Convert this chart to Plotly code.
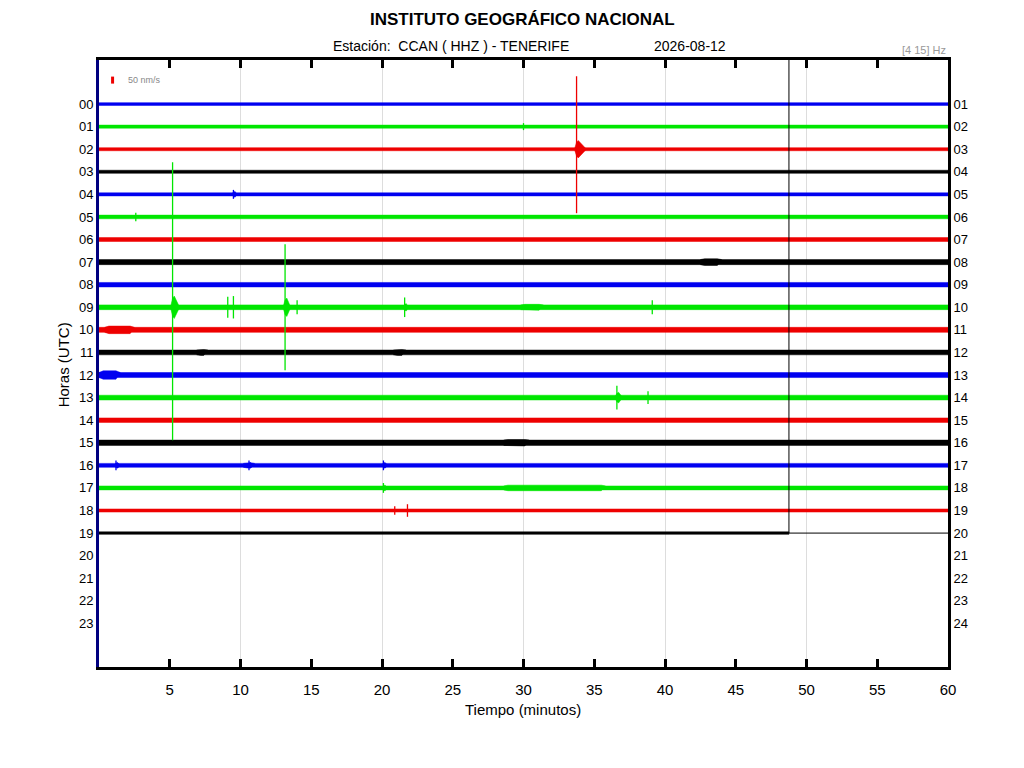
import plotly.graph_objects as go

# helicorder CCAN HHZ, 2026-08-12, one row per hour
hours = list(range(20))
hour_labels_left = ["%02d" % h for h in range(24)]
hour_labels_right = ["%02d" % (h + 1) for h in range(24)]
trace_end = [60] * 19 + [48.76]   # minutes recorded in each hour
# background noise half-amplitude per hour (nm/s)
noise_level = [10, 11, 11, 11, 11, 13, 14, 18, 16, 17,
               18, 17, 18, 17, 16, 19, 14, 14, 11, 9]
# noisier stretches: hour, start minute, end minute, half-amplitude (nm/s)
seg_hour = [17, 15, 10, 12, 7, 9, 16, 11, 11]
seg_start = [28.6, 28.6, 0.4, 0.0, 42.5, 29.8, 10.2, 20.8, 6.9]
seg_end = [35.8, 30.4, 2.5, 1.5, 44.0, 31.4, 11.0, 21.7, 7.7]
seg_level = [20, 23, 27, 30, 24, 21, 19, 21, 21]

# events: hour, minute, peak up (nm/s), peak down (nm/s), coda amplitude, coda length (min)
ev_hour = [2, 9, 9, 9, 9, 9, 9, 9, 4, 5, 13, 13, 17, 18, 16, 16, 16, 1, 18]
ev_min = [33.75, 5.2, 13.15, 9.1, 9.5, 14.0, 21.6, 39.1, 9.5, 2.6, 36.6, 38.8, 20.1,
          21.8, 1.2, 10.6, 20.1, 30.0, 20.9]
ev_up = [521, 1036, 450, 75, 80, 50, 70, 50, 32, 30, 85, 45, 35, 45, 35, 35, 35, 25, 30]
ev_down = [457, 950, 450, 75, 80, 50, 70, 50, 32, 30, 85, 45, 35, 45, 35, 35, 35, 25, 30]
ev_coda = [62, 80, 66, 0, 0, 0, 26, 0, 20, 0, 38, 0, 20, 0, 20, 20, 20, 0, 0]
ev_len = [0.7, 0.5, 0.4, 0, 0, 0, 0.25, 0, 0.25, 0, 0.4, 0, 0.3, 0, 0.3, 0.3, 0.3, 0, 0]

scale_nms = 50
rows_per_nms = 0.31 / 50
colors = ["#0000f0", "#00e600", "#ee0000", "#000000"]


def band(fig, h, x0, x1, level, c, base=None, ramp=0.0):
    a = level * rows_per_nms
    b = a if base is None else base * rows_per_nms
    fig.add_trace(go.Scatter(
        x=[x0, x0 + ramp, x1 - ramp, x1, x1 - ramp, x0 + ramp, x0],
        y=[h - b, h - a, h - a, h - b, h + a, h + a, h + b],
        fill="toself", fillcolor=c, mode="lines",
        line=dict(color=c, width=0.5), hoverinfo="skip"))


fig = go.Figure()

for h in hours:
    band(fig, h, 0, trace_end[h], noise_level[h], colors[h % 4])

for i in range(len(seg_hour)):
    h = seg_hour[i]
    band(fig, h, seg_start[i], seg_end[i], seg_level[i], colors[h % 4],
         base=noise_level[h], ramp=0.3)

for i in range(len(ev_hour)):
    h = ev_hour[i]
    t = ev_min[i]
    c = colors[h % 4]
    if ev_coda[i] > 0:
        ca = ev_coda[i] * rows_per_nms
        d = ev_len[i]
        # spindle-shaped burst around the onset
        fig.add_trace(go.Scatter(
            x=[t - 0.15, t, t + 0.12, t + d, t + 0.12, t, t - 0.15],
            y=[h, h - ca * 0.8, h - ca, h, h + ca, h + ca * 0.8, h],
            fill="toself", fillcolor=c, mode="lines",
            line=dict(color=c, width=0.5), hoverinfo="skip"))
    fig.add_trace(go.Scatter(
        x=[t, t], y=[h - ev_up[i] * rows_per_nms, h + ev_down[i] * rows_per_nms],
        mode="lines", line=dict(color=c, width=1.3), hoverinfo="skip"))

# current time marker
now_min = trace_end[-1]
fig.add_trace(go.Scatter(x=[now_min, now_min], y=[-1.95, hours[-1]], mode="lines",
                         line=dict(color="black", width=1), hoverinfo="skip"))
fig.add_trace(go.Scatter(x=[now_min, 60], y=[hours[-1], hours[-1]], mode="lines",
                         line=dict(color="black", width=1), hoverinfo="skip"))

# scale bar
fig.add_trace(go.Scatter(x=[0.96, 0.96],
                         y=[-1.06 - scale_nms * rows_per_nms / 2, -1.06 + scale_nms * rows_per_nms / 2],
                         mode="lines", line=dict(color="#ee0000", width=3), hoverinfo="skip"))
# grid-only axis and right-hand hour axis
fig.add_trace(go.Scatter(x=[0], y=[0], xaxis="x2", mode="markers", marker=dict(opacity=0),
                         hoverinfo="skip"))
fig.add_trace(go.Scatter(x=[0], y=[0], yaxis="y2", mode="markers", marker=dict(opacity=0),
                         hoverinfo="skip"))

font = "Liberation Sans, Arial, sans-serif"
# page body adds an 8px offset, so left/top margins are 8px smaller
fig.update_layout(
    width=1024, height=768, showlegend=False,
    margin=dict(l=91, r=84, t=52, b=109),
    paper_bgcolor="white", plot_bgcolor="white",
    font=dict(family=font, color="black"),
    xaxis=dict(range=[0, 60], tickvals=[5, 10, 15, 20, 25, 30, 35, 40, 45, 50, 55, 60],
               ticks="inside", ticklen=8, tickwidth=3, tickcolor="black",
               showgrid=False, zeroline=False, showline=True, linecolor="black",
               linewidth=3, mirror="ticks", tickfont=dict(size=15), ticklabelstandoff=7),
    xaxis2=dict(range=[0, 60], overlaying="x", tickvals=[10, 20, 30, 40, 50],
                showgrid=True, gridcolor="#dddddd", gridwidth=1, showticklabels=False,
                ticks="", zeroline=False, layer="below traces"),
    yaxis=dict(range=[24.93, -1.95], tickvals=list(range(24)), ticktext=hour_labels_left,
               ticks="", showgrid=False, zeroline=False, showline=True,
               linecolor="#000080", linewidth=3, tickfont=dict(size=13)),
    yaxis2=dict(range=[24.93, -1.95], overlaying="y", side="right",
                tickvals=list(range(24)), ticktext=hour_labels_right, ticks="",
                showgrid=False, zeroline=False, showline=True, linecolor="black",
                linewidth=3, tickfont=dict(size=13)),
)

ann = dict(xref="paper", yref="paper", showarrow=False, xanchor="center", yanchor="middle")
fig.add_annotation(text="<b>INSTITUTO GEOGRÁFICO NACIONAL</b>", x=0.4994, y=1.0675,
                   font=dict(size=17), **ann)
fig.add_annotation(text="Estación:  CCAN ( HHZ ) - TENERIFE", x=0.4146, y=1.023,
                   font=dict(size=14), **ann)
fig.add_annotation(text="2026-08-12", x=0.696, y=1.023, font=dict(size=14), **ann)
fig.add_annotation(text="[4 15] Hz", xref="paper", yref="paper", xanchor="right",
                   yanchor="middle", x=1.0, y=1.016, showarrow=False,
                   font=dict(size=11, color="#999999"))
fig.add_annotation(text="50 nm/s", xref="x", yref="y", xanchor="left", yanchor="middle",
                   x=1.9, y=-1.06, showarrow=False, font=dict(size=9, color="#888888"))
fig.add_annotation(text="Horas (UTC)", textangle=-90, x=-0.042, y=0.4975,
                   font=dict(size=15), **ann)
fig.add_annotation(text="Tiempo (minutos)", x=0.4994, y=-0.0708, font=dict(size=15), **ann)

fig.write_html("out.html")
